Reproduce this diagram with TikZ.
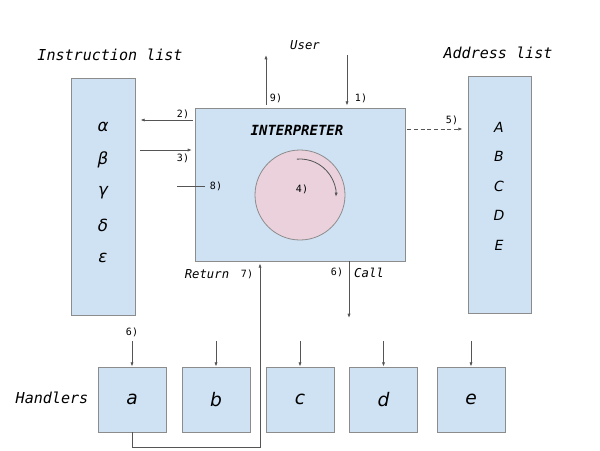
\documentclass[tikz,border=0pt]{standalone}
\usepackage{fontspec}
\setmainfont{DejaVu Sans}
\setsansfont{DejaVu Sans}
\setmonofont{DejaVu Sans Mono}
\usetikzlibrary{arrows.meta,positioning}
\definecolor{boxblue}{HTML}{CFE2F3}
\definecolor{loopred}{HTML}{EAD1DC}
\definecolor{edgegray}{HTML}{8C8C8C}
\definecolor{wiregray}{HTML}{555555}
\tikzset{
  panel/.style={draw=edgegray, fill=boxblue, line width=0.6pt},
  listbox/.style={panel, minimum width=48pt, minimum height=177.75pt},
  handlerbox/.style={panel, minimum width=51pt, minimum height=48.75pt,
    font=\sffamily\itshape\fontsize{14}{14}\selectfont},
  wire/.style={draw=wiregray, line width=0.6pt},
  arr/.style={wire, -{Latex[length=3.2pt,width=2.4pt]}},
  title/.style={font=\ttfamily\itshape\fontsize{11.3}{12}\selectfont},
  caption/.style={font=\ttfamily\itshape\fontsize{9.2}{10}\selectfont},
  tag/.style={font=\ttfamily\fontsize{7.5}{8}\selectfont},
}

\begin{document}
\begin{tikzpicture}[x=0.75pt, y=-0.75pt]
  \useasboundingbox (0,0) rectangle (600,450);

  %%%%% LISTS %%%%%
  \node[title] (ititle) at (110,55) {Instruction list};
  \node[listbox] (ilist) at (103,196.5) {};
  \foreach \sym [count=\i from 0] in {α,β,γ,δ,ε}
    \node[font=\sffamily\itshape\fontsize{12.5}{13}\selectfont] (ins\i) at (103,127+32.7*\i) {\sym};

  \node[title] (atitle) at (498,53) {Address list};
  \node[listbox, minimum width=47.25pt] (alist) at (499.5,194.5) {};
  \foreach \sym [count=\i from 0] in {A,B,C,D,E}
    \node[font=\sffamily\itshape\fontsize{10.5}{11}\selectfont] (adr\i) at (499,127+29.5*\i) {\sym};

  %%%%% INTERPRETER %%%%%
  \node[panel, minimum width=157.5pt, minimum height=114.75pt] (interp) at (300,184.5) {};
  \node[font=\ttfamily\bfseries\itshape\fontsize{10.5}{11}\selectfont] (iname) at (297,130) {INTERPRETER};
  \node[circle, draw=edgegray, fill=loopred, line width=0.6pt, minimum size=67.5pt] (loop) at (300,195) {};
  \node[tag] (t4) at (302,189) {4)};
  \draw[arr] ([shift={(95:27pt)}]loop.center) arc[start angle=95, end angle=-3, radius=27pt];

  %%%%% USER %%%%%
  \node[caption] (user) at (305,45) {User};
  \coordinate (uout) at (266,55);
  \coordinate (uin) at (347,55);
  \draw[arr, shorten <=2pt] (interp.north -| uout) -- (uout);
  \draw[arr, shorten >=1.5pt] (uin) -- (interp.north -| uin);
  \node[tag] (t9) at (276,98) {9)};
  \node[tag] (t1) at (361,98) {1)};

  %%%%% INSTRUCTIONS %%%%%
  \coordinate (fetch) at (0,120);
  \coordinate (give) at (0,150);
  \coordinate (skip) at (177,186);
  \draw[arr, shorten <=1.5pt, shorten >=3.75pt] (interp.west |- fetch) -- (ilist.east |- fetch);
  \draw[arr, shorten <=3.75pt, shorten >=2pt] (ilist.east |- give) -- (interp.west |- give);
  \draw[wire] (skip) -- ++(28,0);
  \node[tag] (t2) at (183,114) {2)};
  \node[tag] (t3) at (183,158) {3)};
  \node[tag] (t8) at (216,186) {8)};

  %%%%% ADDRESSES %%%%%
  \coordinate (look) at (0,129);
  \draw[arr, densely dashed, shorten <=1.5pt, shorten >=3.75pt] (interp.east |- look) -- (alist.west |- look);
  \node[tag] (t5) at (452,120) {5)};

  %%%%% HANDLERS %%%%%
  \node[title] (htitle) at (52,398) {Handlers};
  \foreach \name/\x in {a/132,b/216,c/300,d/383.5,e/471} {
    \node[handlerbox] (h\name) at (\x,399.5) {\name};
    \draw[arr] (\x,341) -- (h\name.north);
  }
  \node[tag] (t6a) at (132,332) {6)};

  \coordinate (call) at (349,318);
  \coordinate (ret) at (260,0);
  \draw[arr] (interp.south -| call) -- (call);
  \draw[arr, shorten >=1.5pt] (ha.south) -- ++(0,15) -| (interp.south -| ret);
  \node[tag] (t6) at (337,272) {6)};
  \node[caption] (tcall) at (369,273) {Call};
  \node[caption] (tret) at (207,274) {Return};
  \node[tag] (t7) at (247,274) {7)};
\end{tikzpicture}
\end{document}
